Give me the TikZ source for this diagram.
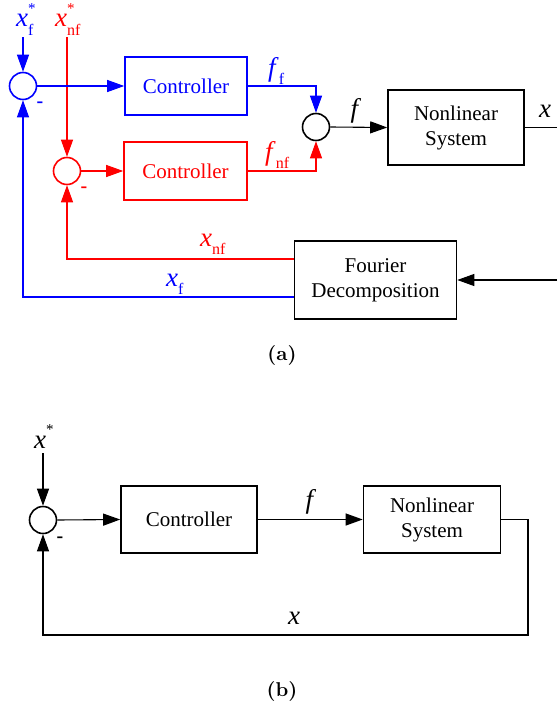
\documentclass[tikz,border=0pt]{standalone}
\usepackage{fontspec}
\newfontfamily\tnr{Liberation Serif}
\newfontfamily\capfont{lmroman10-bold}[Extension=.otf]
\usetikzlibrary{arrows.meta}
\newcommand\vsym[3]{\textit{#1}\rlap{\raisebox{0.5em}{\fontsize{15}{15}\selectfont #3}}\raisebox{-0.3em}{\fontsize{16}{16}\selectfont #2}}
\begin{document}
\begin{tikzpicture}[x=1pt,y=-1pt,
  blockbox/.style={draw, line width=1.6pt, align=center, inner sep=0pt,
    font=\tnr\fontsize{21}{25}\selectfont},
  sumc/.style={circle, draw, line width=1.6pt, minimum size=27pt, inner sep=0pt},
  conn/.style={line width=1.1pt},
  arr/.style={conn,-{Triangle[length=17pt,width=12pt]}},
  lbl/.style={inner sep=0pt, font=\tnr\fontsize{27}{27}\selectfont},
  minus/.style={inner sep=0pt, font=\tnr\bfseries\fontsize{20}{20}\selectfont},
  capt/.style={inner sep=0pt, font=\capfont\fontsize{20}{20}\selectfont}
]
\useasboundingbox (0,0) rectangle (557,704);

% ---------- (a) ----------
\node[lbl,blue,anchor=base west] (xfs) at (16,27) {\vsym{x}{f}{*}};
\node[lbl,red,anchor=base west] (xnfs) at (55,27) {\vsym{x}{nf}{*}};

\node[sumc,blue] (bs) at (23,86) {};
\node[sumc,red] (rs) at (67,171) {};
\node[blockbox,blue,minimum width=122pt,minimum height=58pt] (bc) at (186,86) {Controller};
\node[blockbox,red,minimum width=123pt,minimum height=58pt] (rc) at (185.5,171) {Controller};
\node[sumc] (ss) at (316,127) {};
\node[blockbox,minimum width=136pt,minimum height=75pt] (ns) at (456,127.5) {Nonlinear\\System};
\node[blockbox,minimum width=162pt,minimum height=78pt] (fd) at (375.5,280) {Fourier\\Decomposition};

\coordinate (oe) at (557,127.5);
\coordinate (ie) at (557,280);

\draw[arr,blue] (bs.north |- 0,37) -- (bs.north);
\draw[arr,red] (rs.north |- 0,37) -- (rs.north);
\draw[arr,blue] (bs.east) -- (bc.west);
\draw[arr,red] (rs.east) -- (rc.west);
\draw[arr,blue] (bc.east) -| (ss.north);
\draw[arr,red] (rc.east) -| (ss.south);
\draw[arr] (ss.east) -- (ns.west);
\draw[conn] (ns.east) -- (oe);
\draw[arr] (ie) -- (fd.east);
\draw[arr,red] (fd.west |- 0,259) -| (rs.south);
\draw[arr,blue] (fd.west |- 0,297) -| (bs.south);

\node[lbl,blue,anchor=base west] (ff) at (268,76) {\vsym{f}{f}{}};
\node[lbl,red,anchor=base west] (fnf) at (265,160) {\vsym{f}{nf}{}};
\node[lbl,anchor=base] (fl) at (356,117) {\textit{f}};
\node[lbl,anchor=base] (xo) at (545,117) {\textit{x}};
\node[lbl,red,anchor=base west] (xnf) at (200,246) {\vsym{x}{nf}{}};
\node[lbl,blue,anchor=base west] (xf) at (166,286) {\vsym{x}{f}{}};

\node[minus,blue] (m1) at (40,105) {-};
\node[minus,red] (m2) at (84,190) {-};

\node[capt] (ca) at (282,355) {(a)};

% ---------- (b) ----------
\node[lbl,anchor=base west] (xs) at (34,448) {\vsym{x}{}{*}};
\node[sumc] (s2) at (43,520) {};
\node[blockbox,minimum width=136pt,minimum height=67pt] (c2) at (189,519.5) {Controller};
\node[blockbox,minimum width=137pt,minimum height=67pt] (n2) at (432,519.5) {Nonlinear\\System};
\coordinate (r2) at (528,635);

\draw[arr] (s2.north |- 0,453) -- (s2.north);
\draw[arr] (s2.east) -- (c2.west);
\draw[arr] (c2.east) -- (n2.west);
\draw[arr] (n2.east) -| (r2) -| (s2.south);

\node[lbl,anchor=base] (f2) at (311,508) {\textit{f}};
\node[lbl,anchor=base] (x2) at (294,624) {\textit{x}};
\node[minus] (m3) at (60,540) {-};

\node[capt] (cb) at (282,691) {(b)};
\end{tikzpicture}
\end{document}
